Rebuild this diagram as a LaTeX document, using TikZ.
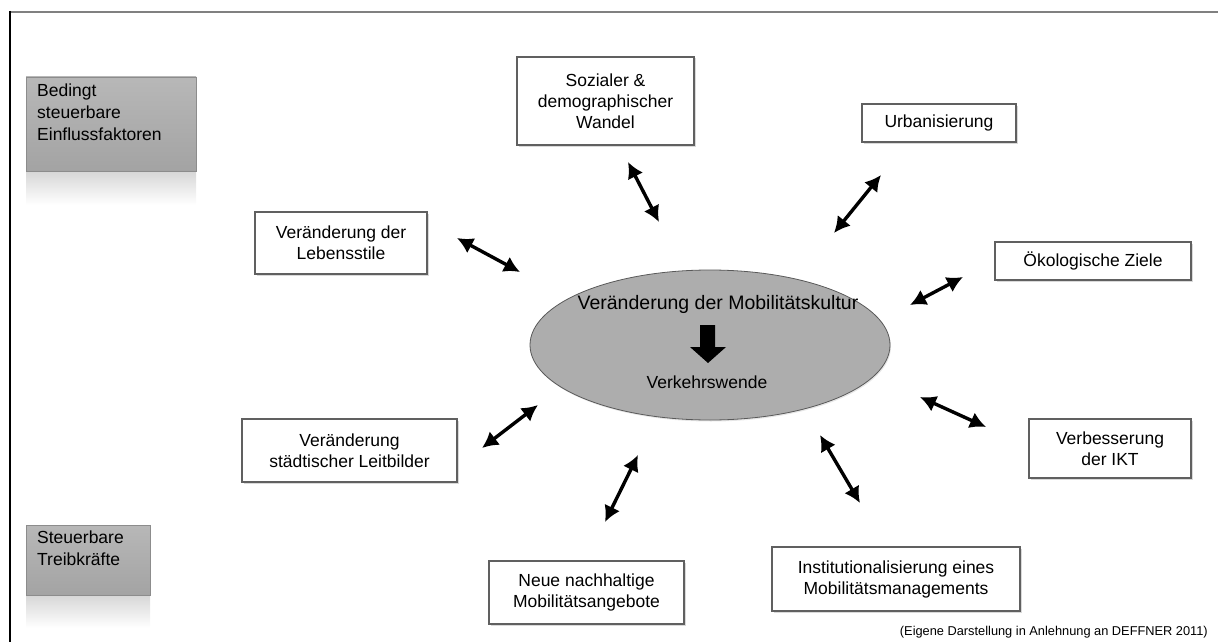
\documentclass[tikz,border=0pt]{standalone}
\usepackage{fontspec}
\setmainfont{Liberation Sans}
\usetikzlibrary{shapes.geometric,shadows,arrows.meta}

\begin{document}
\begin{tikzpicture}[x=1pt, y=-1pt,
      box/.style={draw=gray!75!black, line width=1.8pt, fill=white, rectangle, align=center, inner sep=0pt,
        font=\fontsize{17.5}{21}\selectfont,
        drop shadow={shadow xshift=1.5pt, shadow yshift=-1.5pt, opacity=0.3}},
      greybox/.style={draw=gray!90, line width=0.8pt, rectangle, inner sep=0pt, top color=gray!56, bottom color=gray!72},
      greytext/.style={anchor=north west, align=left, inner sep=0pt, font=\fontsize{17.5}{22}\selectfont},
      link/.style={{Latex[length=16pt,width=17pt]}-{Latex[length=16pt,width=17pt]}, line width=3.4pt}]
      \useasboundingbox (0,0) rectangle (1218,642);
      \draw[gray, line width=2pt] (10,12) -- (1218,12);
      \draw[black, line width=1.4pt] (10,11) -- (10,642);

      % left legend
      \shade[top color=gray!32, bottom color=white] (26,171) rectangle (196,205);
      \node (einfluss) [greybox, minimum width=170, minimum height=94] at (111,124) {};
      \node (einflusstxt) [greytext] at (37,84) {Bedingt\\steuerbare\\Einflussfaktoren};
      \shade[top color=gray!32, bottom color=white] (26,595) rectangle (150,628);
      \node (treib) [greybox, minimum width=124, minimum height=70] at (88,560) {};
      \node (treibtxt) [greytext] at (37,531) {Steuerbare\\Treibkr\"afte};

      % centre
      \node (kultur) [ellipse, draw=gray!70!black, line width=0.8pt, fill=gray!64, minimum width=360, minimum height=150,
        drop shadow={shadow xshift=1pt, shadow yshift=-1.5pt, opacity=0.2}] at (710,345) {};
      \node (kulturtxt) [font=\fontsize{19.5}{23}\selectfont] at (718,304) {Ver\"anderung der Mobilit\"atskultur};
      \fill[black] (700,325) -- (715,325) -- (715,347) -- (726,347) -- (708,363) -- (690,347) -- (700,347) -- cycle;
      \node (wende) [font=\fontsize{17.5}{21}\selectfont] at (707,382) {Verkehrswende};

      % factors
      \node (sozial) [box, minimum width=177, minimum height=88] at (605.5,101) {Sozialer \&\\demographischer\\Wandel};
      \node (urban) [box, minimum width=154, minimum height=38] at (939,123) {Urbanisierung};
      \node (oeko) [box, minimum width=196, minimum height=38] at (1093,261) {\"Okologische Ziele};
      \node (ikt) [box, minimum width=162, minimum height=59] at (1110,448.5) {Verbesserung\\der IKT};
      \node (inst) [box, minimum width=248, minimum height=64] at (896,579) {Institutionalisierung eines\\Mobilit\"atsmanagements};
      \node (neue) [box, minimum width=195, minimum height=63] at (586.5,592.5) {Neue nachhaltige\\Mobilit\"atsangebote};
      \node (leit) [box, minimum width=215, minimum height=63] at (349.5,450.5) {Ver\"anderung\\st\"adtischer Leitbilder};
      \node (leben) [box, minimum width=172, minimum height=62] at (341,243) {Ver\"anderung der\\Lebensstile};

      \node (quelle) [anchor=base east, inner sep=0pt, font=\fontsize{12.8}{15}\selectfont] at (1208,635) {(Eigene Darstellung in Anlehnung an DEFFNER 2011)};

      % arrows
      \coordinate (s1) at (628,162); \coordinate (e1) at (659,222);
      \coordinate (s2) at (881,175); \coordinate (e2) at (834,233);
      \coordinate (s3) at (963,277); \coordinate (e3) at (910,305);
      \coordinate (s4) at (920,397); \coordinate (e4) at (986,427);
      \coordinate (s5) at (820,435); \coordinate (e5) at (860,503);
      \coordinate (s6) at (638,455); \coordinate (e6) at (605,522);
      \coordinate (s7) at (538,405); \coordinate (e7) at (482,448);
      \coordinate (s8) at (457,238); \coordinate (e8) at (520,272);
      \foreach \i in {1,...,8}
        \draw[link] (s\i) -- (e\i);
\end{tikzpicture}
\end{document}
